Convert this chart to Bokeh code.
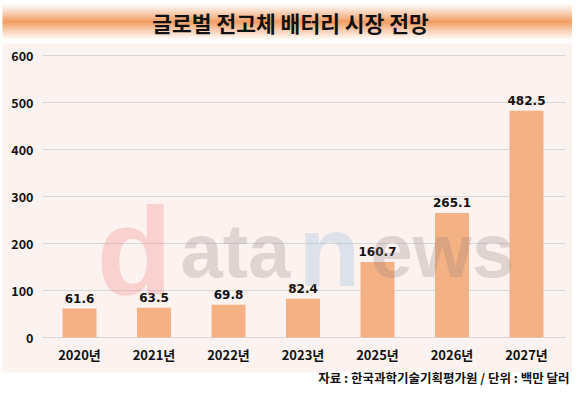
from bokeh.plotting import figure
from bokeh.models import Range1d, ColumnDataSource
from bokeh.core.properties import value
from bokeh.embed import file_html
from bokeh.resources import INLINE

# ---- data ----
years = ["2020년", "2021년", "2022년", "2023년", "2025년", "2026년", "2027년"]
market = [61.6, 63.5, 69.8, 82.4, 160.7, 265.1, 482.5]
y_ticks = [0, 100, 200, 300, 400, 500, 600]
title_text = "글로벌 전고체 배터리 시장 전망"
source_text = "자료 : 한국과학기술기획평가원 / 단위 : 백만 달러"

# ---- layout (reference pixel geometry) ----
W, H = 572, 388
OFF = 0
X0, DX = 79, 74.5  # centre of first category, category spacing (px)
Y0, DY = 337, 0.47 # pixel of value 0, px per unit


def fx(rx):
    return (rx - X0) / DX


def fy(ry):
    return (Y0 - ry) / DY


KR = value("Noto Sans CJK KR")

p = figure(width=W, height=H, output_backend="svg", toolbar_location=None,
           x_range=Range1d(fx(OFF), fx(OFF + W)),
           y_range=Range1d(fy(OFF + H), fy(OFF)),
           x_axis_type=None, y_axis_type=None, min_border=0,
           outline_line_color=None, background_fill_color="white",
           border_fill_color="white")
p.grid.visible = False

# title banner: vertical gradient white -> orange -> white
top_b, bot_b = 3, 40
mid = (top_b + bot_b) / 2
half = (bot_b - top_b) / 2
orange = (237, 125, 49)
lefts, rights, tops, bottoms, cols = [], [], [], [], []
for ry in range(top_b, bot_b):
    c = ry + 0.5
    t = max(0.0, 1 - abs(c - mid) / half)
    t = t ** 1.1
    rgb = tuple(int(round(255 + (o - 255) * t)) for o in orange)
    lefts.append(fx(2)); rights.append(fx(577))
    tops.append(fy(ry)); bottoms.append(fy(ry + 1))
    cols.append("#%02x%02x%02x" % rgb)
p.quad(left=lefts, right=rights, top=tops, bottom=bottoms,
       fill_color=cols, line_color=None)
p.text(x=[fx(290)], y=[fy(22)], text=[title_text], text_align="center",
       text_baseline="middle", text_font=KR, text_font_style="bold",
       text_font_size="21.5px", text_color="#111111")

# chart panel
p.quad(left=[fx(2)], right=[fx(577)], top=[fy(43)], bottom=[fy(372)],
       fill_color="#FCF2EF", line_color=None)

# source
p.text(x=[fx(569)], y=[fy(377)], text=[source_text], text_align="right",
       text_baseline="middle", text_font=KR, text_font_style="bold",
       text_font_size="12.5px", text_color="#111111")

# gridlines + y tick labels
p.segment(x0=[fx(42)] * len(y_ticks), x1=[fx(565)] * len(y_ticks),
          y0=y_ticks, y1=y_ticks, line_color="#D9D9D9", line_width=1.2)
p.text(x=[fx(33)] * len(y_ticks), y=y_ticks, text=[str(t) for t in y_ticks],
       text_align="right", text_baseline="middle", text_font=KR,
       text_font_style="bold", text_font_size="12.5px", text_color="#111111")

idx = list(range(len(years)))
p.vbar(x=idx, top=market, width=34 / DX, fill_color="#F4B183", line_color=None)

p.text(x=idx, y=market, text=[f"{v:.1f}" for v in market], y_offset=-6,
       text_align="center", text_baseline="bottom",
       text_font=value("DejaVu Sans"), text_font_style="bold",
       text_font_size="12px", text_color="#111111")

p.text(x=idx, y=[0] * len(idx), text=years, y_offset=17, text_align="center",
       text_baseline="middle", text_font=KR, text_font_style="bold",
       text_font_size="13px", text_color="#111111")

# faint watermark
wm = ColumnDataSource(dict(
    s=["d", "ata", "n", "ews"],
    x=[fx(v) for v in [96, 180, 298, 370]],
    y=[fy(250)] * 4,
    fs=["124px", "76px", "101px", "76px"],
    col=["#F07070", "#8C7C7C", "#7FB0D8", "#8C7C7C"],
))
p.text(x="x", y="y", text="s", source=wm, text_align="left",
       text_baseline="alphabetic",
       text_font=value("Liberation Sans"),
       text_font_style="bold", text_font_size="fs",
       text_color="col", text_alpha=0.25)

open("out.html", "w").write(file_html(p, INLINE))
